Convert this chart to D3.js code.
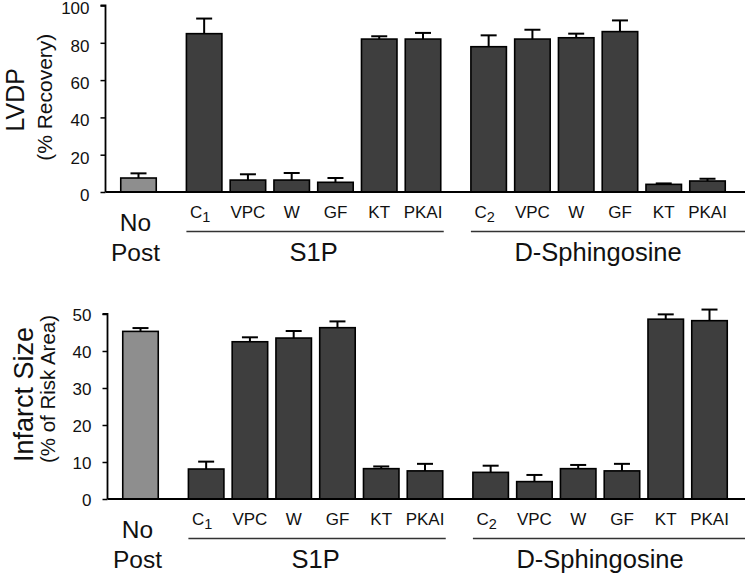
<!DOCTYPE html>
<html>
<head>
<meta charset="utf-8">
<script src="https://cdn.jsdelivr.net/npm/d3@7"></script>
<style>
  html, body { margin: 0; padding: 0; background: #fff; }
  svg { display: block; font-family: "Liberation Sans", Arial, sans-serif; }
</style>
</head>
<body>
<svg id="chart" width="751" height="575"></svg>
<script>
// ---- data ----
const groups = ["No Post", "S1P", "D-Sphingosine"];
const categories = ["No Post", "C1", "VPC", "W", "GF", "KT", "PKAI", "C2", "VPC", "W", "GF", "KT", "PKAI"];
const categoryGroup = [0, 1, 1, 1, 1, 1, 1, 2, 2, 2, 2, 2, 2];
const lvdpValues = [7.5, 84.9, 6.4, 6.4, 5.2, 82.0, 82.0, 77.9, 82.0, 82.7, 86.0, 4.1, 5.9];
const lvdpErrors = [2.5, 8.1, 3.1, 3.8, 2.3, 1.5, 3.3, 6.1, 5.0, 2.2, 6.0, 0.5, 1.2];
const infarctValues = [45.3, 8.1, 42.5, 43.5, 46.3, 8.2, 7.6, 7.2, 4.7, 8.2, 7.6, 48.6, 48.2];
const infarctErrors = [0.9, 2.0, 1.2, 1.9, 1.7, 0.6, 1.9, 1.8, 1.8, 1.0, 1.9, 1.3, 3.0];
const lvdpTicks = [0, 20, 40, 60, 80, 100];
const infarctTicks = [0, 10, 20, 30, 40, 50];

const svg = d3.select("#chart");
const FONT = '"Liberation Sans", Arial, sans-serif';

// slot position: index plus half-slot gap between groups
const slots = categories.map((c, i) => i + categoryGroup[i] * 0.5);

function panel(opts) {
  const { axisX, yTop, yBottom, values, errors, domainMax, ticks, title, subtitle, tickShift } = opts;
  const g = svg.append("g");
  const x = d3.scaleLinear().domain([0, d3.max(slots)]).range([axisX + 33, axisX + 602]);
  const y = d3.scaleLinear().domain([0, domainMax]).range([yBottom, yTop]);
  const bw = 35.5;
  const xEnd = 745;

  // bars
  g.selectAll("rect.bar").data(values).join("rect")
    .attr("x", (d, i) => x(slots[i]) - bw / 2)
    .attr("y", d => y(d))
    .attr("width", bw)
    .attr("height", d => y(0) - y(d))
    .attr("fill", (d, i) => categoryGroup[i] === 0 ? "#8e8e8e" : "#3e3e3e")
    .attr("stroke", "#000")
    .attr("stroke-width", 1.6);

  // error bars (upper only)
  const capW = 16;
  g.selectAll("line.err").data(values).join("line")
    .attr("x1", (d, i) => x(slots[i])).attr("x2", (d, i) => x(slots[i]))
    .attr("y1", d => y(d)).attr("y2", (d, i) => y(d + errors[i]))
    .attr("stroke", "#000").attr("stroke-width", 2);
  g.selectAll("line.cap").data(values).join("line")
    .attr("x1", (d, i) => x(slots[i]) - capW / 2).attr("x2", (d, i) => x(slots[i]) + capW / 2)
    .attr("y1", (d, i) => y(d + errors[i])).attr("y2", (d, i) => y(d + errors[i]))
    .attr("stroke", "#000").attr("stroke-width", 2);

  // y axis
  const yAxis = d3.axisLeft(y).tickValues(ticks).tickSize(5).tickPadding(11).tickFormat(d3.format("d"));
  const ya = g.append("g").attr("transform", `translate(${axisX},0)`).call(yAxis);
  ya.select(".domain").attr("stroke", "#000").attr("stroke-width", 1.8).attr("d", `M-5,${y(domainMax)}H0V${y(0)}`);
  ya.selectAll(".tick line").attr("stroke", "#000").attr("stroke-width", 1.5);
  ya.selectAll(".tick text").attr("font-family", FONT).attr("font-size", 17).attr("fill", "#111")
    .attr("y", tickShift);

  // x baseline
  g.append("line").attr("x1", axisX).attr("x2", xEnd).attr("y1", y(0)).attr("y2", y(0))
    .attr("stroke", "#000").attr("stroke-width", 2);

  // category labels
  const base = y(0);
  categories.forEach((c, i) => {
    if (categoryGroup[i] === 0) return;
    const t = g.append("text")
      .attr("x", x(slots[i]) + (/^C\d$/.test(c) ? -4 : 0))
      .attr("y", base + 26)
      .attr("text-anchor", "middle")
      .attr("font-family", FONT).attr("font-size", 17).attr("fill", "#111");
    if (/^C\d$/.test(c)) {
      t.append("tspan").text("C");
      t.append("tspan").attr("dy", 4).attr("font-size", 14.5).text(c[1]);
    } else {
      t.text(c);
    }
  });

  // No Post label
  const np = slots[categoryGroup.indexOf(0)];
  g.append("text").attr("x", x(np) - 3).attr("y", base + 39).attr("text-anchor", "middle")
    .attr("font-family", FONT).attr("font-size", 24.5).attr("fill", "#111").text("No");
  g.append("text").attr("x", x(np) - 3).attr("y", base + 69).attr("text-anchor", "middle")
    .attr("font-family", FONT).attr("font-size", 24.5).attr("fill", "#111").text("Post");

  // group underlines + labels
  [1, 2].forEach(gi => {
    const idx = categoryGroup.map((v, i) => v === gi ? i : -1).filter(i => i >= 0);
    const x0 = x(slots[idx[0]]) - bw / 2;
    const x1 = gi === 2 ? xEnd : x(slots[idx[idx.length - 1]]) + bw / 2 + 3;
    g.append("line").attr("x1", x0).attr("x2", x1).attr("y1", base + 39.5).attr("y2", base + 39.5)
      .attr("stroke", "#333").attr("stroke-width", 1.5);
    const cx = (x(slots[idx[0]]) + x(slots[idx[idx.length - 1]])) / 2;
    g.append("text").attr("x", cx).attr("y", base + 69).attr("text-anchor", "middle")
      .attr("font-family", FONT).attr("font-size", 25.5).attr("fill", "#111").text(groups[gi]);
  });

  // axis titles
  const cy = (yTop + yBottom) / 2;
  g.append("text")
    .attr("transform", `translate(${title.x},${cy + title.dy}) rotate(-90)`)
    .attr("text-anchor", "middle").attr("font-family", FONT).attr("font-size", title.size).attr("fill", "#111")
    .text(title.text);
  g.append("text")
    .attr("transform", `translate(${subtitle.x},${cy + subtitle.dy}) rotate(-90)`)
    .attr("text-anchor", "middle").attr("font-family", FONT).attr("font-size", subtitle.size).attr("fill", "#111")
    .text(subtitle.text);
}

panel({
  axisX: 105.5, yTop: 5.5, yBottom: 192, tickShift: 3,
  values: lvdpValues, errors: lvdpErrors, domainMax: 100, ticks: lvdpTicks,
  title: { text: "LVDP", x: 24, dy: 1, size: 25 },
  subtitle: { text: "(% Recovery)", x: 51.5, dy: -1.5, size: 21 }
});

panel({
  axisX: 107.5, yTop: 314, yBottom: 499, tickShift: 1.5,
  values: infarctValues, errors: infarctErrors, domainMax: 50, ticks: infarctTicks,
  title: { text: "Infarct Size", x: 33, dy: -12, size: 27 },
  subtitle: { text: "(% of Risk Area)", x: 55, dy: -17.5, size: 20.5 }
});
</script>
</body>
</html>
